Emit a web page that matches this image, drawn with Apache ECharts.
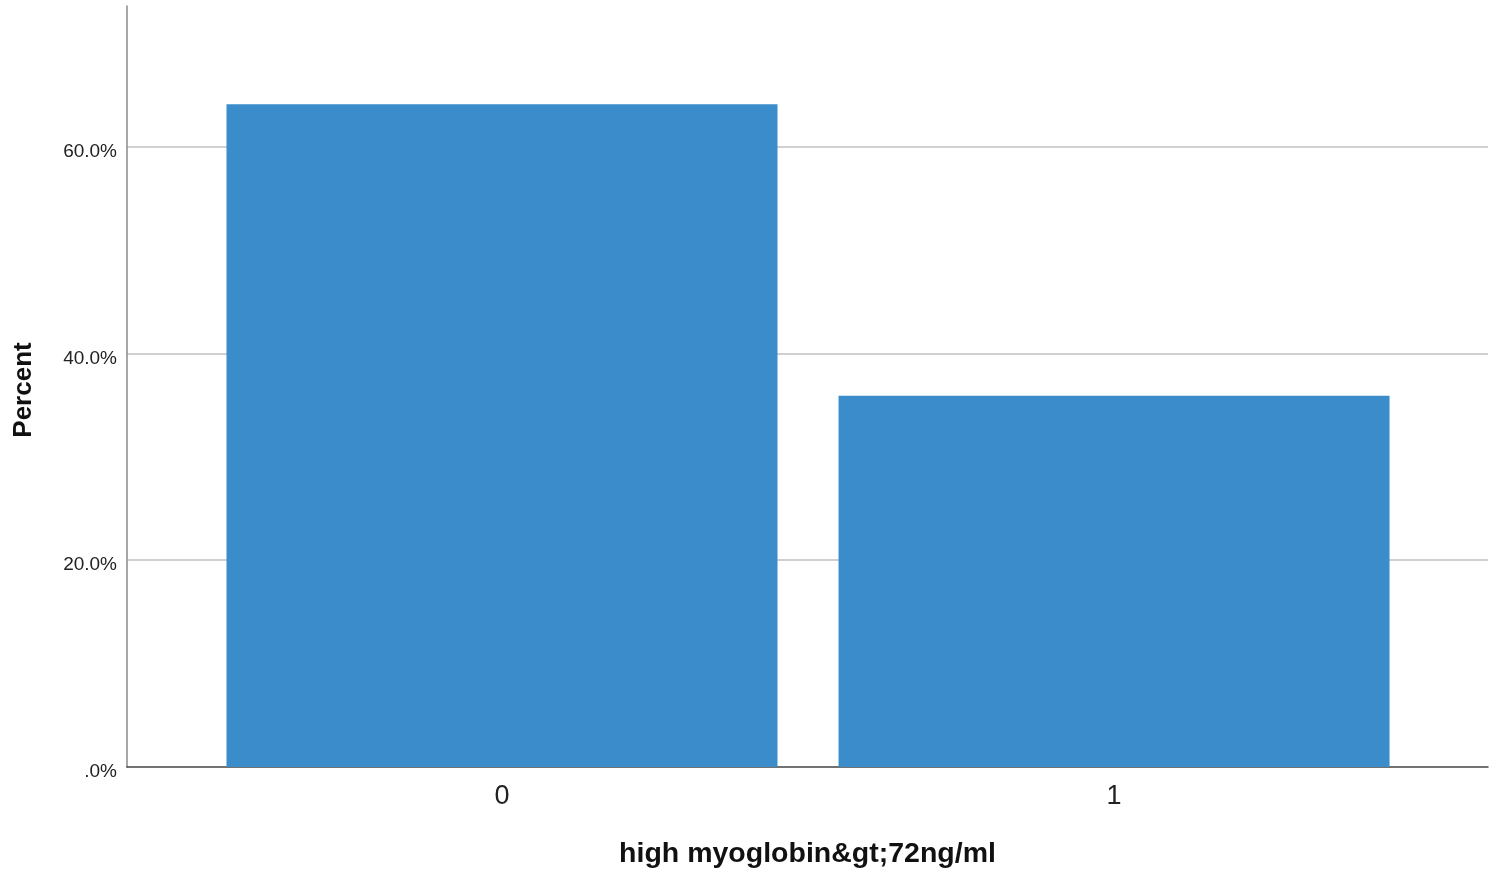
<!DOCTYPE html>
<html>
<head>
<meta charset="utf-8">
<script src="https://cdn.jsdelivr.net/npm/echarts@6/dist/echarts.min.js"></script>
<style>
html,body{margin:0;padding:0;background:#fff;}
#chart{width:1500px;height:876px;}
</style>
</head>
<body>
<div id="chart"></div>
<script>
const categories = [0, 1];
const categoryLabels = ['0', '1'];
const percentValues = [64.1, 35.9];
const yTicks = [0, 20, 40, 60];

const chart = echarts.init(document.getElementById('chart'), null, {renderer: 'canvas'});
const font = '"Liberation Sans", Arial, sans-serif';
chart.setOption({
  animation: false,
  backgroundColor: '#ffffff',
  grid: {left: 127, right: 12, top: 6, bottom: 109, containLabel: false},
  xAxis: {
    type: 'value',
    min: -0.6127,
    max: 1.611,
    name: 'high myoglobin&gt;72ng/ml',
    nameLocation: 'middle',
    nameGap: 73,
    nameTextStyle: {fontFamily: font, fontSize: 28.5, fontWeight: 'bold', color: '#111'},
    axisLine: {show: true, onZero: false, lineStyle: {color: '#444', width: 1.5}},
    axisTick: {show: false},
    splitLine: {show: false},
    axisLabel: {
      customValues: categories,
      formatter: v => categoryLabels[categories.indexOf(Math.round(v))] || '',
      fontFamily: font, fontSize: 27, color: '#222', margin: 16
    }
  },
  yAxis: {
    type: 'value',
    min: 0,
    max: 73.6,
    interval: 20,
    name: 'Percent',
    nameLocation: 'middle',
    nameRotate: 90,
    nameGap: 90,
    nameTextStyle: {fontFamily: font, fontSize: 26, fontWeight: 'bold', color: '#111', padding: [0, 7, 0, 0]},
    axisLine: {show: true, onZero: false, lineStyle: {color: '#8a8a8a', width: 1.5}},
    axisTick: {show: false},
    splitLine: {show: true, showMaxLine: false, showMinLine: false, lineStyle: {color: '#d0d0d0', width: 2}},
    axisLabel: {
      customValues: yTicks,
      formatter: v => v === 0 ? '.0%' : v.toFixed(1) + '%',
      fontFamily: font, fontSize: 19, color: '#222', margin: 10,
      verticalAlign: 'top',
      lineHeight: 10
    }
  },
  series: [{
    type: 'bar',
    data: categories.map((c, i) => [c, percentValues[i]]),
    barWidth: 551,
    itemStyle: {color: '#3a8dca'}
  }]
});
</script>
</body>
</html>
